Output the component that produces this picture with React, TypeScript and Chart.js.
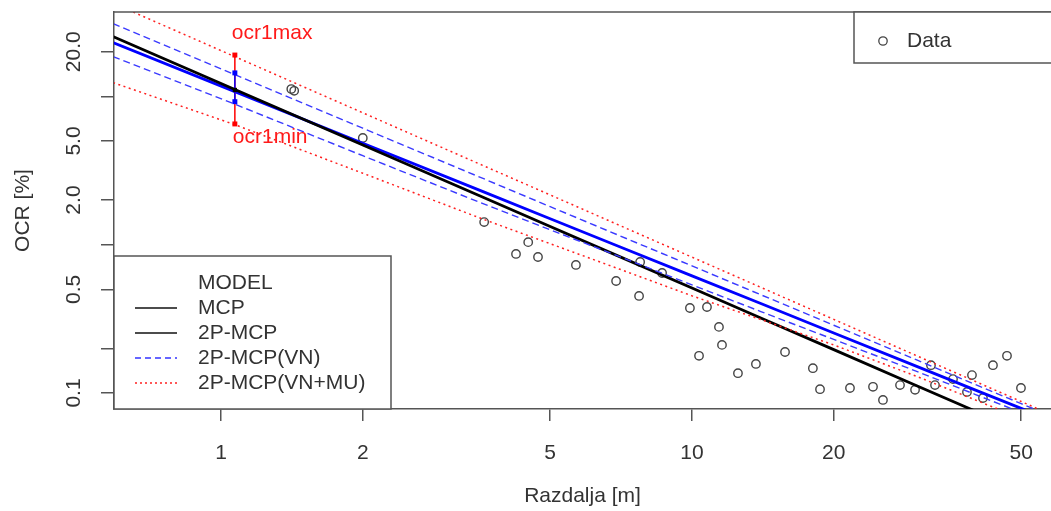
import React, { useEffect, useRef } from 'react';
import { Chart, registerables } from 'chart.js';

Chart.register(...registerables);

// ---- axis ticks ----
const xTicks = [1, 2, 5, 10, 20, 50];
const yTicks = [0.1, 0.2, 0.5, 1, 2, 5, 10, 20];
const yTickLabels = ['0.1', '', '0.5', '', '2.0', '5.0', '', '20.0'];
const xMin = 0.5926;
const xMax = 57.85;
const yMin = 0.07797;
const yMax = 37.07;

// ---- measured data (Razdalja [m], OCR [%]) ----
const dataX = [1.41, 1.43, 2.0, 3.62, 4.49, 4.23, 4.71, 5.67, 6.9, 7.72, 7.76, 8.64, 9.9, 10.76, 11.41, 11.58, 10.35, 12.52, 13.67, 15.76, 18.06, 18.7, 21.65, 24.23, 25.44, 27.65, 29.76, 32.17, 32.81, 35.83, 39.31, 38.36, 41.48, 43.56, 46.65, 49.95];
const dataY = [11.2, 10.9, 5.24, 1.42, 1.04, 0.866, 0.826, 0.73, 0.569, 0.451, 0.764, 0.644, 0.374, 0.38, 0.279, 0.211, 0.178, 0.136, 0.157, 0.189, 0.147, 0.106, 0.108, 0.11, 0.0897, 0.113, 0.105, 0.154, 0.113, 0.124, 0.132, 0.1016, 0.0925, 0.154, 0.178, 0.108];

// ---- model curves ----
const lineX = [0.59, 1.07, 2, 3.6, 5, 7, 10, 14, 20, 30, 40, 50, 60];
const mcpY = [25.3, 11.13, 4.7, 2.087, 1.327, 0.834, 0.51, 0.3205, 0.196, 0.112, 0.0753, 0.0553, 0.043];
const mcp2pY = [23.04, 10.76, 4.834, 2.279, 1.496, 0.973, 0.6165, 0.4009, 0.254, 0.1512, 0.1046, 0.0787, 0.0623];
const vnUpperY = [30.9, 14.0, 6.1, 2.797, 1.805, 1.154, 0.719, 0.4595, 0.2862, 0.167, 0.1139, 0.0848, 0.0665];
const vnLowerY = [18.53, 8.86, 3.98, 1.891, 1.261, 0.833, 0.536, 0.354, 0.2296, 0.1399, 0.0976, 0.0739, 0.059];
const vnmuUpperY = [42.5, 18.52, 7.75, 3.418, 2.165, 1.354, 0.824, 0.5157, 0.3136, 0.1782, 0.1194, 0.0876, 0.0679];
const vnmuLowerY = [12.38, 6.446, 3.033, 1.486, 1.015, 0.686, 0.4519, 0.3127, 0.2108, 0.1294, 0.0896, 0.0673, 0.0533];

// ---- error bar at one distance ----
const barX = 1.07;
const ocr1max = 19.0;
const vnMax = 14.4;
const ocrMid = 11.05;
const vnMin = 9.21;
const ocr1min = 6.52;

const FONT_FAMILY = "'Liberation Sans', Arial, Helvetica, sans-serif";
const TEXT = '#333333';
const AXIS = '#555555';
const FS = 21;

const pts = (xs: number[], ys: number[]) => xs.map((x, i) => ({ x, y: ys[i] }));

const overlayPlugin = {
  id: 'overlay',
  afterDraw(chart: any) {
    const { ctx, chartArea: a, scales } = chart;
    const xs = scales.x;
    const ys = scales.y;
    ctx.save();
    ctx.strokeStyle = AXIS;
    ctx.lineWidth = 1.5;
    ctx.setLineDash([]);
    ctx.beginPath();
    ctx.moveTo(a.left, a.top);
    ctx.lineTo(chart.width, a.top);
    ctx.stroke();

    // y tick labels (rotated, parallel to the axis)
    ctx.fillStyle = TEXT;
    ctx.font = `${FS}px ${FONT_FAMILY}`;
    ctx.textAlign = 'center';
    ctx.textBaseline = 'middle';
    yTicks.forEach((v, i) => {
      const lab = yTickLabels[i];
      if (!lab) return;
      const py = ys.getPixelForValue(v);
      ctx.save();
      ctx.translate(a.left - 40, py);
      ctx.rotate(-Math.PI / 2);
      ctx.fillText(lab, 0, 0);
      ctx.restore();
    });

    // error bar labels
    const bx = xs.getPixelForValue(barX);
    const byTop = ys.getPixelForValue(ocr1max);
    const byBot = ys.getPixelForValue(ocr1min);
    ctx.fillStyle = '#ff1a1a';
    ctx.textAlign = 'left';
    ctx.fillText('ocr1max', bx - 3, byTop - 22);
    ctx.fillText('ocr1min', bx - 2, byBot + 13);

    // bottom-left legend
    const lx0 = a.left;
    const ly0 = 256;
    const lx1 = 391;
    const ly1 = a.bottom;
    ctx.fillStyle = '#ffffff';
    ctx.fillRect(lx0, ly0, lx1 - lx0, ly1 - ly0);
    ctx.strokeStyle = AXIS;
    ctx.lineWidth = 1.5;
    ctx.strokeRect(lx0, ly0, lx1 - lx0, ly1 - ly0);
    ctx.fillStyle = TEXT;
    ctx.fillText('MODEL', 198, 283);
    const items = [
      { t: 'MCP', c: '#111111', d: [] as number[], y: 308 },
      { t: '2P-MCP', c: '#111111', d: [] as number[], y: 333 },
      { t: '2P-MCP(VN)', c: '#3333ff', d: [6, 4], y: 358 },
      { t: '2P-MCP(VN+MU)', c: '#ff2020', d: [2, 3], y: 383 },
    ];
    items.forEach((it) => {
      ctx.strokeStyle = it.c;
      ctx.lineWidth = 1.3;
      ctx.setLineDash(it.d);
      ctx.beginPath();
      ctx.moveTo(135, it.y);
      ctx.lineTo(177, it.y);
      ctx.stroke();
      ctx.setLineDash([]);
      ctx.fillStyle = TEXT;
      ctx.fillText(it.t, 198, it.y);
    });

    // top-right legend
    const rx0 = 854;
    const ry0 = a.top;
    const ry1 = 63;
    ctx.fillStyle = '#ffffff';
    ctx.fillRect(rx0, ry0, 1060 - rx0, ry1 - ry0);
    ctx.strokeStyle = AXIS;
    ctx.lineWidth = 1.5;
    ctx.strokeRect(rx0, ry0, 1060 - rx0, ry1 - ry0);
    ctx.strokeStyle = '#444444';
    ctx.lineWidth = 1.3;
    ctx.beginPath();
    ctx.arc(883, 41, 4.2, 0, Math.PI * 2);
    ctx.stroke();
    ctx.fillStyle = TEXT;
    ctx.fillText('Data', 907, 41);
    ctx.restore();
  },
};

export default function App() {
  const ref = useRef<HTMLCanvasElement | null>(null);

  useEffect(() => {
    if (!ref.current) return;
    const lineDs = (label: string, ys: number[], color: string, width: number, dash: number[]) => ({
      label,
      data: pts(lineX, ys),
      showLine: true,
      borderColor: color,
      backgroundColor: color,
      borderWidth: width,
      borderDash: dash,
      pointRadius: 0,
      tension: 0,
    });
    const chart = new Chart(ref.current, {
      type: 'scatter',
      data: {
        datasets: [
          { label: 'mid', data: [{ x: barX, y: ocrMid }], pointStyle: 'rect', pointRadius: 3, backgroundColor: '#000', borderColor: '#000', borderWidth: 0, showLine: false },
          { label: 'vnMarks', data: [{ x: barX, y: vnMax }, { x: barX, y: vnMin }], pointStyle: 'rect', pointRadius: 3.5, backgroundColor: '#0000ff', borderColor: '#0000ff', borderWidth: 0, showLine: false },
          { label: 'vnBar', data: [{ x: barX, y: vnMax }, { x: barX, y: vnMin }], showLine: true, borderColor: '#0000ff', borderWidth: 1.5, pointRadius: 0 },
          { label: 'ocrMarks', data: [{ x: barX, y: ocr1max }, { x: barX, y: ocr1min }], pointStyle: 'rect', pointRadius: 3.5, backgroundColor: '#ff0000', borderColor: '#ff0000', borderWidth: 0, showLine: false },
          { label: 'ocrBar', data: [{ x: barX, y: ocr1max }, { x: barX, y: ocr1min }], showLine: true, borderColor: '#ff0000', borderWidth: 1.5, pointRadius: 0 },
          lineDs('2P-MCP(VN+MU) upper', vnmuUpperY, '#ff2020', 1.5, [2, 3.5]),
          lineDs('2P-MCP(VN+MU) lower', vnmuLowerY, '#ff2020', 1.5, [2, 3.5]),
          lineDs('2P-MCP(VN) upper', vnUpperY, '#3a3aff', 1.4, [7, 4]),
          lineDs('2P-MCP(VN) lower', vnLowerY, '#3a3aff', 1.4, [7, 4]),
          lineDs('MCP', mcpY, '#000000', 2.8, []),
          lineDs('2P-MCP', mcp2pY, '#0000ff', 2.8, []),
          {
            label: 'Data',
            data: pts(dataX, dataY),
            pointStyle: 'circle',
            pointRadius: 4.2,
            borderColor: '#444444',
            borderWidth: 1.4,
            backgroundColor: 'rgba(0,0,0,0)',
            showLine: false,
          },
        ],
      },
      options: {
        animation: false,
        responsive: true,
        maintainAspectRatio: false,
        events: [],
        layout: { autoPadding: false, padding: { left: 0, top: 12, right: 0, bottom: 0 } },
        plugins: { legend: { display: false }, tooltip: { enabled: false } },
        scales: {
          x: {
            type: 'logarithmic',
            position: 'bottom',
            min: xMin,
            max: xMax,
            bounds: 'data',
            afterBuildTicks: (s: any) => {
              s.ticks = xTicks.map((v) => ({ value: v }));
            },
            afterFit: (s: any) => {
              s.height = 102;
              s.paddingLeft = 0;
              s.paddingRight = 0;
            },
            ticks: {
              autoSkip: false,
              maxRotation: 0,
              minRotation: 0,
              padding: 20,
              color: TEXT,
              font: { family: FONT_FAMILY, size: FS },
              callback: (v: any) => String(v),
            },
            grid: { display: true, drawOnChartArea: false, drawTicks: true, tickLength: 12, color: AXIS, lineWidth: 1.5 },
            border: { display: true, color: AXIS, width: 1.5 },
            title: {
              display: true,
              text: 'Razdalja [m]',
              color: TEXT,
              font: { family: FONT_FAMILY, size: FS },
              padding: { top: 0, bottom: 2 },
            },
          },
          y: {
            type: 'logarithmic',
            position: 'left',
            min: yMin,
            max: yMax,
            bounds: 'data',
            afterBuildTicks: (s: any) => {
              s.ticks = yTicks.map((v) => ({ value: v }));
            },
            afterFit: (s: any) => {
              s.width = 114;
              s.paddingTop = 0;
              s.paddingBottom = 0;
            },
            ticks: { display: false },
            grid: { display: true, drawOnChartArea: false, drawTicks: true, tickLength: 13, color: AXIS, lineWidth: 1.5 },
            border: { display: true, color: AXIS, width: 1.5 },
            title: {
              display: true,
              text: 'OCR [%]',
              color: TEXT,
              font: { family: FONT_FAMILY, size: FS },
              padding: { top: 11, bottom: 0 },
            },
          },
        },
      },
      plugins: [overlayPlugin],
    } as any);
    return () => chart.destroy();
  }, []);

  return (
    <div style={{ position: 'absolute', left: 0, top: 0, width: 1051, height: 511, background: '#fff', overflow: 'hidden' }}>
      <canvas ref={ref} width={1051} height={511} style={{ display: 'block' }} />
    </div>
  );
}
